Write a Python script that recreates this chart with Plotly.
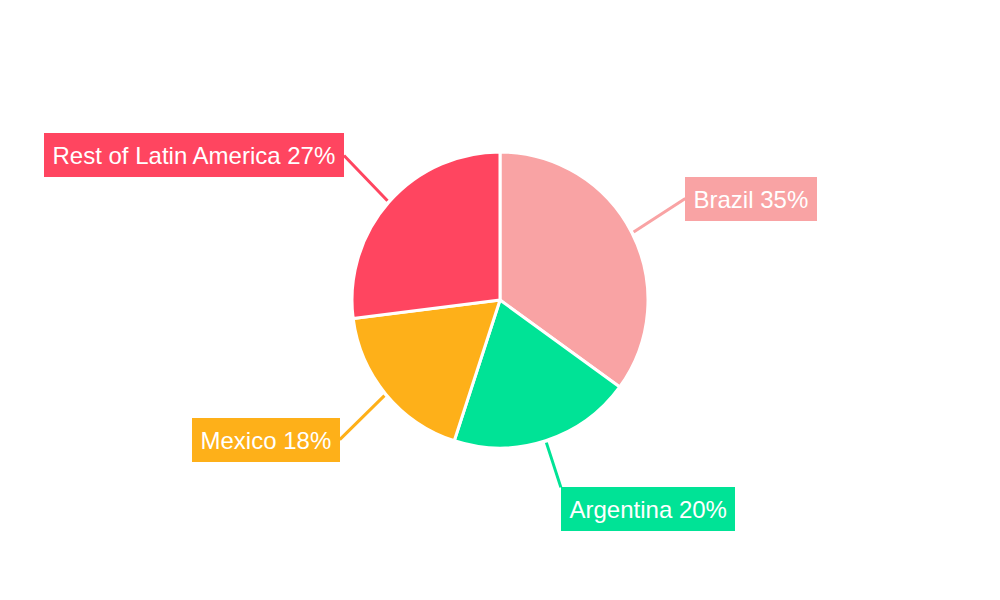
"""Pie chart: market share across Latin America."""

import numpy as np
import plotly.graph_objects as go

labels = ["Brazil", "Argentina", "Mexico", "Rest of Latin America"]
shares = [35, 20, 18, 27]
colors = ["#F9A3A4", "#00E396", "#FEB019", "#FF4560"]

W, H = 1000, 600
# the page body adds an 8px margin, so shift the drawing back by that much
CX, CY, R = 492, 292, 148

fig = go.Figure()

fig.add_trace(go.Pie(
    labels=labels,
    values=shares,
    sort=False,
    direction="clockwise",
    rotation=0,
    textinfo="none",
    hoverinfo="label+percent",
    marker=dict(colors=colors, line=dict(color="white", width=3)),
    domain=dict(x=[(CX - R) / W, (CX + R) / W], y=[(H - CY - R) / H, (H - CY + R) / H]),
    showlegend=False,
))

# label boxes with leader lines, placed at each slice's mid angle
total = sum(shares)
cum = np.cumsum([0] + shares[:-1])
for lab, val, start, col in zip(labels, shares, cum, colors):
    ang = 2 * np.pi * (start + val / 2) / total
    s, c = np.sin(ang), np.cos(ang)
    length, lift = 58, 7
    if c < -0.9:
        yanchor, length, lift = "top", 47, 0
    elif c > 0.9:
        yanchor, length, lift = "bottom", 47, 0
    else:
        yanchor = "middle"
    fig.add_annotation(
        x=(CX + (R + 2) * s) / W,
        y=(H - CY + (R + 2) * c) / H,
        xref="paper", yref="paper",
        ax=length * s, ay=-length * c - lift * np.sign(c),
        text=f"{lab} {val}%",
        showarrow=True,
        arrowhead=0,
        arrowwidth=3,
        arrowcolor=col,
        bgcolor=col,
        borderpad=8.5,
        borderwidth=0,
        xanchor="left" if s > 0 else "right",
        yanchor=yanchor,
        font=dict(family="Liberation Sans, Arial, sans-serif", size=24, color="white"),
    )

fig.update_layout(
    width=W,
    height=H,
    margin=dict(l=0, r=0, t=0, b=0),
    paper_bgcolor="white",
    plot_bgcolor="white",
)

fig.write_html("out.html")
